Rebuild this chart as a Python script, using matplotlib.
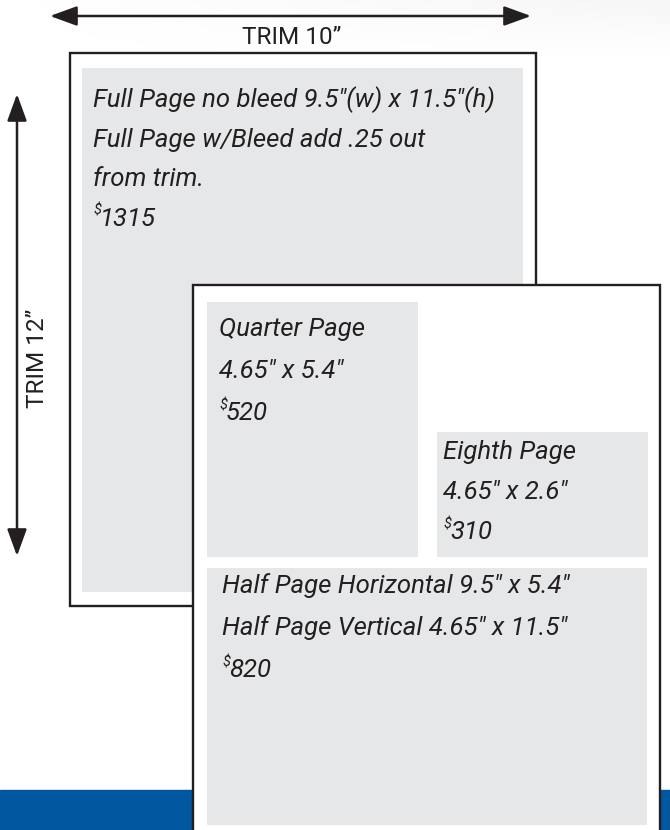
import numpy as np
import matplotlib
matplotlib.use('Agg')
import matplotlib.pyplot as plt
from matplotlib.patches import Rectangle, FancyArrowPatch

# ad sizes and prices
ad_names = ['Full Page', 'Quarter Page', 'Eighth Page', 'Half Page']
ad_lines = [
    ['Full Page no bleed 9.5"(w) x 11.5"(h)', 'Full Page w/Bleed add .25 out', 'from trim.'],
    ['Quarter Page', '4.65" x 5.4"'],
    ['Eighth Page', '4.65" x 2.6"'],
    ['Half Page Horizontal 9.5" x 5.4"', 'Half Page Vertical 4.65" x 11.5"'],
]
ad_prices = ['1315', '520', '310', '820']
trim_labels = ['TRIM 10\u201d', 'TRIM 12\u201d']

W, H = 670, 830
FONT = 'Roboto'
INK = '#231f20'
GRAY = '#e6e7e8'
BLUE = '#0057a0'

fig = plt.figure(figsize=(W / 100, H / 100), dpi=100)
ax = fig.add_axes([0, 0, 1, 1])
ax.set_xlim(0, W)
ax.set_ylim(H, 0)
ax.axis('off')

# faint grey sheen at the top
grad = np.linspace(0, 1, 200)[None, :] * np.linspace(1, 0, 60)[:, None]
ax.imshow(grad, extent=(0, W, 60, 0), cmap='Greys', vmin=0, vmax=14, aspect='auto', zorder=0)

# blue footer band
ax.add_patch(Rectangle((0, 790), W, 40, color=BLUE, zorder=1))

# page layout (pixel boxes: x, y, w, h)
page_box = (70, 53, 466, 553)
full_box = (82, 68, 441, 524)
over_box = (193, 285, 467, 560)
quarter_box = (207, 302, 211, 255)
eighth_box = (437, 432, 211, 125)
half_box = (207, 568, 440, 257)

def rect(b, fc, ec='none', lw=0, z=2):
    ax.add_patch(Rectangle((b[0], b[1]), b[2], b[3], facecolor=fc, edgecolor=ec, linewidth=lw, zorder=z))

rect(page_box, 'white', INK, 1.7, 2)
rect(full_box, GRAY, z=3)
rect(over_box, 'white', INK, 1.7, 4)
rect(quarter_box, GRAY, z=5)
rect(eighth_box, GRAY, z=5)
rect(half_box, GRAY, z=5)

# trim arrows
arrow_kw = dict(arrowstyle='<|-|>,head_length=1.1,head_width=0.4', mutation_scale=15,
                color=INK, linewidth=1.8, zorder=6, shrinkA=0, shrinkB=0)
ax.add_patch(FancyArrowPatch((50, 16), (531, 16), **arrow_kw))
ax.add_patch(FancyArrowPatch((17, 94), (17, 556), **arrow_kw))
ax.text(292, 37, trim_labels[0], fontsize=17.5, family=FONT, color=INK, ha='center', va='center', zorder=6)
ax.text(37, 358, trim_labels[1], fontsize=17.5, family=FONT, color=INK, ha='center', va='center',
        rotation=90, zorder=6)

# ad texts: (left x, first line y, line step)
text_pos = [(93, 100, 39.5), (219, 329, 42), (443, 452, 40), (222, 586, 42)]
for lines, price, (tx, ty, step) in zip(ad_lines, ad_prices, text_pos):
    for i, line in enumerate(lines):
        ax.text(tx, ty + i * step, line, fontsize=18.5, family=FONT, style='italic', color=INK,
                ha='left', va='center', zorder=7)
    py = ty + len(lines) * step
    ax.text(tx, py - 8, '$', fontsize=10.5, family=FONT, style='italic', color=INK,
            ha='left', va='center', zorder=7)
    ax.text(tx + 7, py, price, fontsize=18.5, family=FONT, style='italic', color=INK,
            ha='left', va='center', zorder=7)

fig.savefig('out.png', dpi=100)
